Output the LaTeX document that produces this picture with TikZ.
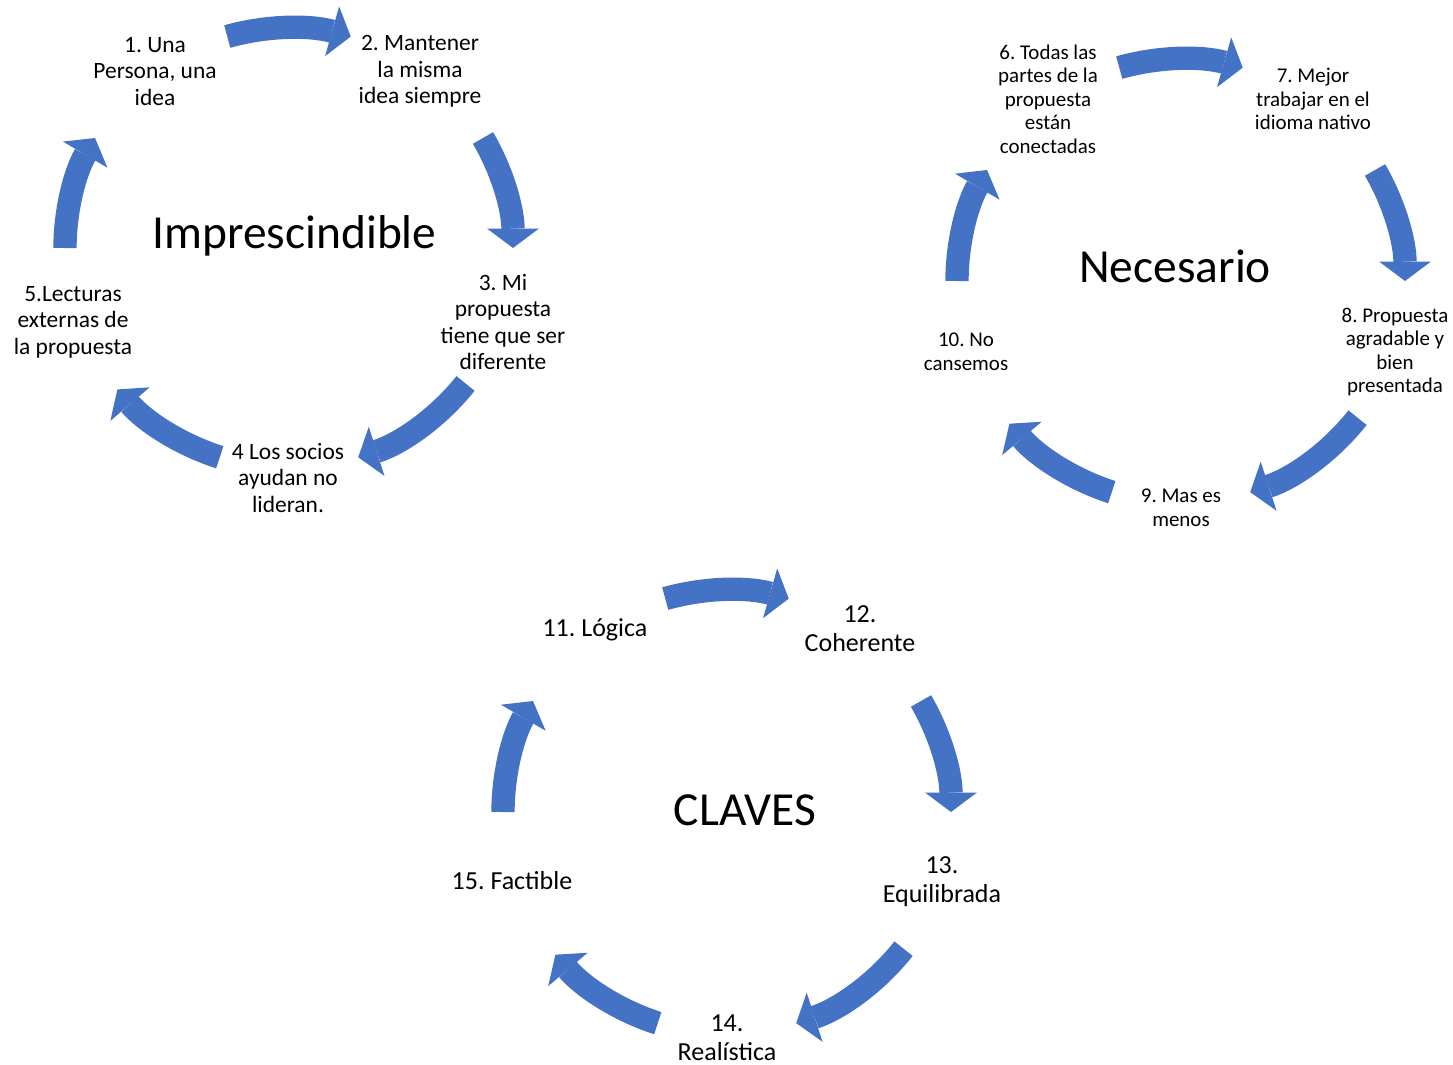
\documentclass[tikz,border=0pt]{standalone}
\usepackage{fontspec}
\setmainfont{Carlito}
\frenchspacing
\usetikzlibrary{arrows.meta}
\definecolor{cycblue}{HTML}{4472C4}
\tikzset{
  cyc/.style={cycblue, line width=0.7cm,
    -{Triangle[length=0.58cm, width=1.55cm, line width=0pt]}},
  title/.style={font=\fontsize{40.5}{44}\selectfont, inner sep=0pt, anchor=base},
  lblA/.style={font=\fontsize{20}{22.6}\selectfont, align=center, inner sep=0pt},
  lblB/.style={font=\fontsize{17.9}{20.1}\selectfont, align=center, inner sep=0pt},
  lblC/.style={font=\fontsize{22.2}{24.7}\selectfont, align=center, inner sep=0pt}
}
\begin{document}
\begin{tikzpicture}[x=0.03cm, y=0.03cm]
\useasboundingbox (0,0) rectangle (1453,-1065);
% cycle centres
\coordinate (cImp) at (289,-248);
\coordinate (cNec) at (1181,-281);
\coordinate (cCla) at (727,-812);
% Imprescindible
\foreach \s/\e in {106/74, 30/0, -38/-72, -108/-140, 180/150}
  \draw [cyc] (cImp) ++(\s:224 and 220) arc [start angle=\s, end angle=\e, x radius=224, y radius=220];
\node [title] (tImp) at (294.5,-248) {Imprescindible};
\node [lblA] (n1) at (155,-71.5) {1. Una\\Persona, una\\idea};
\node [lblA] (n2) at (420,-71.5) {2. Mantener\\la misma\\idea siempre};
\node [lblA] (n3) at (503,-322) {3. Mi\\propuesta\\tiene que ser\\diferente};
\node [lblA] (n4) at (288,-478) {4 Los socios\\ayudan no\\lideran.};
\node [lblA] (n5) at (73,-322) {5.Lecturas\\externas de\\la propuesta};
% Necesario
\foreach \s/\e in {106/74, 30/0, -38/-72, -108/-140, 180/150}
  \draw [cyc] (cNec) ++(\s:224 and 222) arc [start angle=\s, end angle=\e, x radius=224, y radius=222];
\node [title] (tNec) at (1175,-282) {Necesario};
\node [lblB] (n6) at (1048,-99) {6. Todas las\\partes de la\\propuesta\\están\\conectadas};
\node [lblB] (n7) at (1313,-99) {7. Mejor\\trabajar en el\\idioma nativo};
\node [lblB] (n8) at (1395,-352) {8. Propuesta\\agradable y\\bien\\presentada};
\node [lblB] (n9) at (1181,-508) {9. Mas es\\menos};
\node [lblB] (n10) at (966,-352) {10. No\\cansemos};
% CLAVES
\foreach \s/\e in {106/74, 30/0, -38/-72, -108/-140, 180/150}
  \draw [cyc] (cCla) ++(\s:224 and 222) arc [start angle=\s, end angle=\e, x radius=224, y radius=222];
\node [title] (tCla) at (745,-825) {CLAVES};
\node [lblC] (n11) at (595,-630) {11. Lógica};
\node [lblC] (n12) at (860,-628.5) {12.\\Coherente};
\node [lblC] (n13) at (942,-881.5) {13.\\Equilibrada};
\node [lblC] (n14) at (727,-1037.5) {14.\\Realística};
\node [lblC] (n15) at (512,-881) {15. Factible};
\end{tikzpicture}
\end{document}
